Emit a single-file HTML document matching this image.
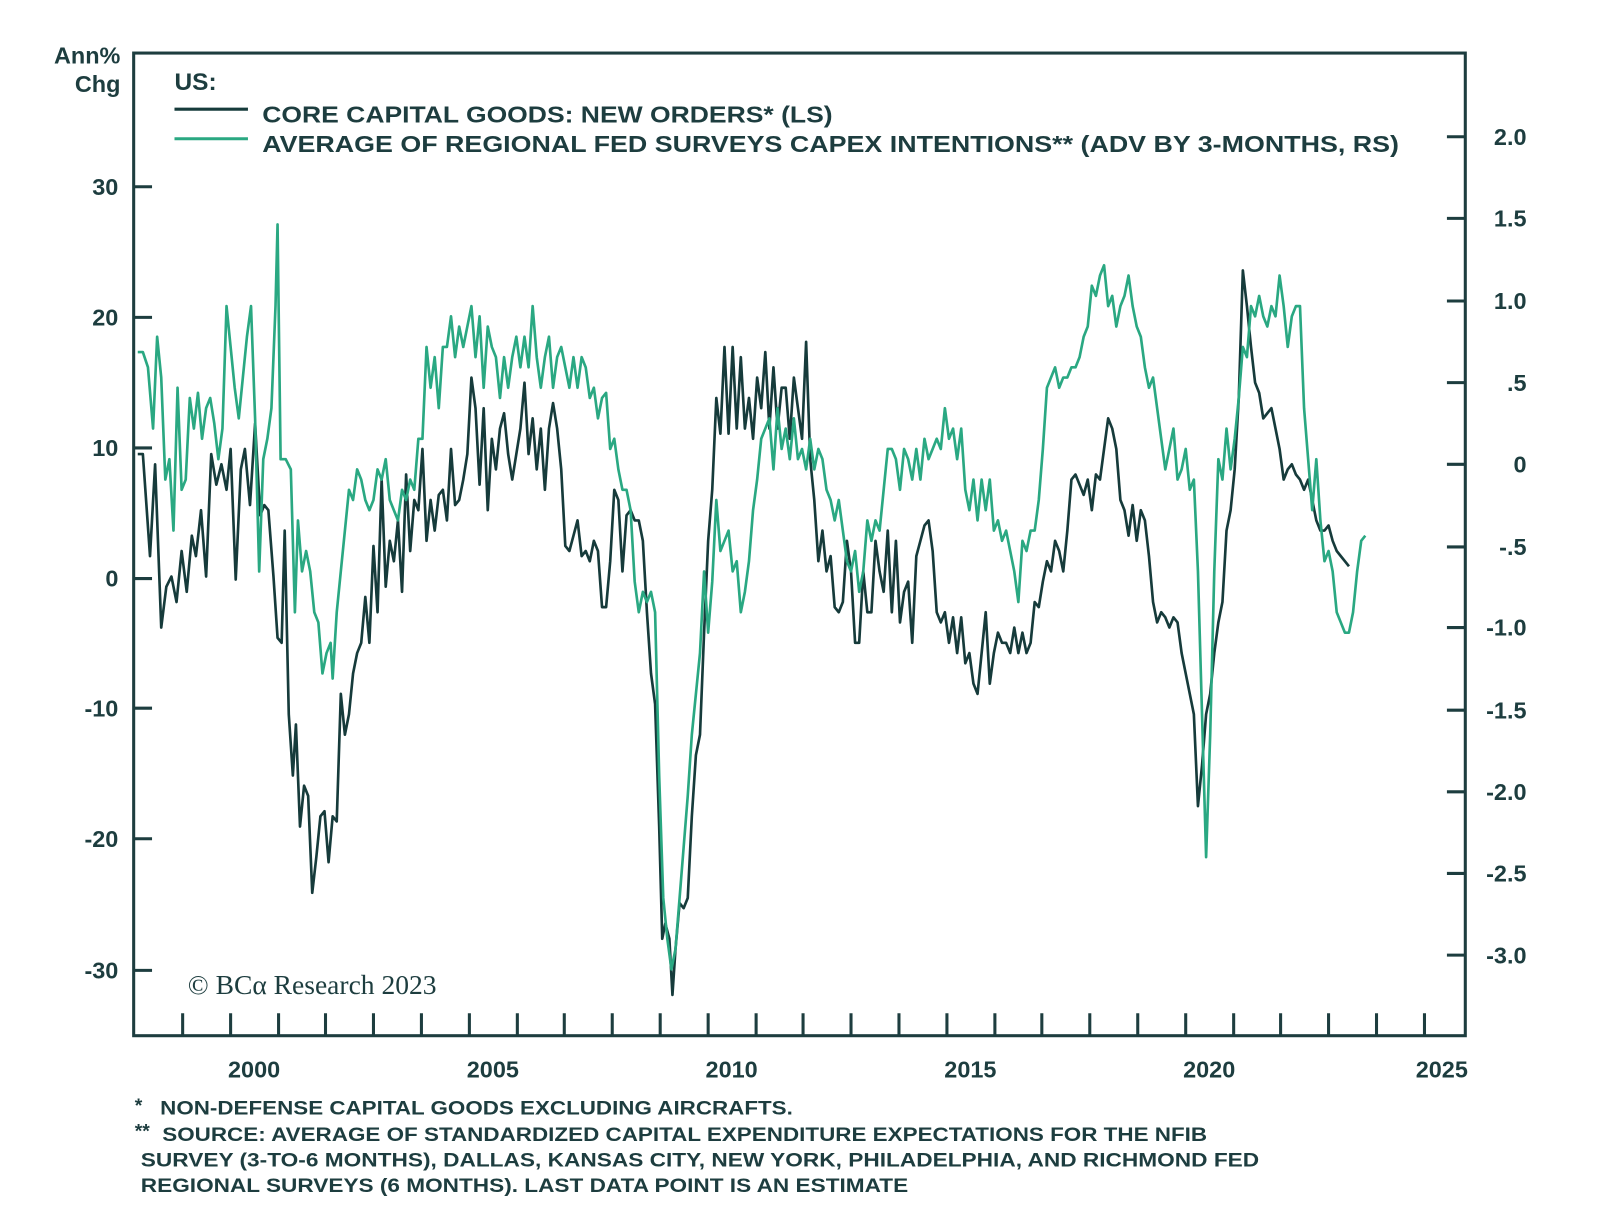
<!DOCTYPE html>
<html><head><meta charset="utf-8"><style>
html,body{margin:0;padding:0;background:#fff;}
svg{display:block;}
text{font-family:"Liberation Sans",sans-serif;font-weight:bold;fill:#1d3d3f;}
</style></head><body>
<svg width="1600" height="1232" viewBox="0 0 1600 1232" xmlns="http://www.w3.org/2000/svg">
<rect width="1600" height="1232" fill="#fff"/>
<g transform="scale(1.0204)">
<rect x="131" y="52" width="1305" height="963" fill="none" stroke="#1d3d3f" stroke-width="3"/>
<g stroke="#1d3d3f" stroke-width="3">
<line x1="131" y1="183" x2="149" y2="183"/><line x1="131" y1="311" x2="149" y2="311"/><line x1="131" y1="439" x2="149" y2="439"/><line x1="131" y1="567" x2="149" y2="567"/><line x1="131" y1="694" x2="149" y2="694"/><line x1="131" y1="822" x2="149" y2="822"/><line x1="131" y1="951" x2="149" y2="951"/>
<line x1="1418" y1="134" x2="1436" y2="134"/><line x1="1418" y1="214" x2="1436" y2="214"/><line x1="1418" y1="295" x2="1436" y2="295"/><line x1="1418" y1="375" x2="1436" y2="375"/><line x1="1418" y1="455" x2="1436" y2="455"/><line x1="1418" y1="536" x2="1436" y2="536"/><line x1="1418" y1="615" x2="1436" y2="615"/><line x1="1418" y1="696" x2="1436" y2="696"/><line x1="1418" y1="776" x2="1436" y2="776"/><line x1="1418" y1="856" x2="1436" y2="856"/><line x1="1418" y1="936" x2="1436" y2="936"/>
<path d="M179 1015V993M226 1015V993M273 1015V993M319 1015V993M366 1015V993M413 1015V993M460 1015V993M507 1015V993M553 1015V993M600 1015V993M647 1015V993M694 1015V993M741 1015V993M787 1015V993M834 1015V993M881 1015V993M928 1015V993M975 1015V993M1021 1015V993M1068 1015V993M1115 1015V993M1162 1015V993M1209 1015V993M1255 1015V993M1302 1015V993M1349 1015V993M1396 1015V993"/>
</g>
<g font-size="23" text-anchor="end">
<text x="118" y="62">Ann%</text><text x="118" y="90">Chg</text>
<text x="116" y="191">30</text><text x="116" y="319">20</text><text x="116" y="447">10</text><text x="116" y="575">0</text><text x="116" y="702">-10</text><text x="116" y="830">-20</text><text x="116" y="959">-30</text>
</g>
<g font-size="23" text-anchor="end">
<text x="1496" y="142">2.0</text><text x="1496" y="222">1.5</text><text x="1496" y="303">1.0</text><text x="1496" y="383">.5</text><text x="1496" y="463">0</text><text x="1496" y="544">-.5</text><text x="1496" y="623">-1.0</text><text x="1496" y="704">-1.5</text><text x="1496" y="784">-2.0</text><text x="1496" y="864">-2.5</text><text x="1496" y="944">-3.0</text>
</g>
<g font-size="23" text-anchor="middle">
<text x="249" y="1056">2000</text><text x="483" y="1056">2005</text><text x="717" y="1056">2010</text><text x="951" y="1056">2015</text><text x="1185" y="1056">2020</text><text x="1413" y="1056">2025</text>
</g>
<text x="171" y="88" font-size="24">US:</text>
<line x1="171" y1="107" x2="243" y2="107" stroke="#163b3b" stroke-width="3"/>
<line x1="171" y1="136" x2="243" y2="136" stroke="#2aa882" stroke-width="3"/>
<text x="257" y="120" font-size="23" textLength="559" lengthAdjust="spacingAndGlyphs">CORE CAPITAL GOODS: NEW ORDERS* (LS)</text>
<text x="257" y="149" font-size="23" textLength="1114" lengthAdjust="spacingAndGlyphs">AVERAGE OF REGIONAL FED SURVEYS CAPEX INTENTIONS** (ADV BY 3-MONTHS, RS)</text>
<text x="184" y="974" font-size="27" style="font-family:'Liberation Serif',serif;font-weight:normal">© BCα Research 2023</text>
<g font-size="19">
<text x="132" y="1090">*</text><text x="157" y="1092" textLength="620" lengthAdjust="spacingAndGlyphs">NON-DEFENSE CAPITAL GOODS EXCLUDING AIRCRAFTS.</text>
<text x="132" y="1115">**</text><text x="159" y="1118" textLength="1024" lengthAdjust="spacingAndGlyphs">SOURCE: AVERAGE OF STANDARDIZED CAPITAL EXPENDITURE EXPECTATIONS FOR THE NFIB</text>
<text x="138" y="1143" textLength="1096" lengthAdjust="spacingAndGlyphs">SURVEY (3-TO-6 MONTHS), DALLAS, KANSAS CITY, NEW YORK, PHILADELPHIA, AND RICHMOND FED</text>
<text x="138" y="1168" textLength="752" lengthAdjust="spacingAndGlyphs">REGIONAL SURVEYS (6 MONTHS). LAST DATA POINT IS AN ESTIMATE</text>
</g>
<polyline fill="none" stroke="#163b3b" stroke-width="2.6" stroke-linejoin="round" points="135,445 140,445 147,545 152,455 158,615 163,575 168,565 173,590 178,540 183,580 188,525 192,545 197,500 202,565 207,445 212,475 217,455 222,480 226,440 231,568 236,460 240,440 245,495 250,415 255,505 259,495 263,500 268,565 272,625 276,630 279,520 283,700 287,760 290,710 294,810 298,770 302,780 306,875 310,840 314,800 318,795 322,845 326,800 330,805 334,680 338,720 342,700 346,660 350,640 354,630 358,585 362,630 366,535 370,600 374,470 378,575 382,530 386,550 390,510 394,580 398,465 402,540 406,490 410,500 414,440 418,530 422,490 426,520 430,485 434,480 438,510 442,440 446,495 450,490 454,470 458,445 462,370 466,400 470,475 474,400 478,500 482,430 486,460 490,420 494,405 498,445 502,470 506,445 510,420 514,375 518,445 522,410 526,460 530,420 534,480 538,420 542,395 546,420 550,460 554,535 558,540 562,525 566,510 570,545 574,540 578,550 582,530 586,540 590,595 594,595 598,550 602,480 606,490 610,560 614,505 618,500 622,510 626,510 630,530 634,600 638,660 642,690 646,810 649,920 652,905 656,920 659,975 662,930 666,885 670,890 674,880 678,800 682,740 686,720 690,620 694,530 698,480 702,390 706,425 710,340 714,425 718,340 722,420 726,350 730,420 734,390 738,430 742,370 746,400 750,345 754,420 758,360 762,420 766,380 770,380 774,430 778,370 782,400 786,430 790,335 794,450 798,490 802,550 806,520 810,560 814,545 818,595 822,600 826,590 830,530 834,560 838,630 842,630 846,560 850,600 854,600 858,530 862,560 866,580 870,520 874,600 878,530 882,610 886,580 890,570 894,630 898,545 902,530 906,515 910,510 914,540 918,600 922,610 926,600 930,630 934,605 938,640 942,605 946,650 950,640 954,670 958,680 962,640 966,600 970,670 974,640 978,620 982,630 986,630 990,640 994,615 998,640 1002,620 1006,640 1010,630 1014,590 1018,595 1022,570 1026,550 1030,560 1034,530 1038,540 1042,560 1046,520 1050,470 1054,465 1058,475 1062,485 1066,470 1070,500 1074,465 1078,470 1082,440 1086,410 1090,420 1094,440 1098,490 1102,500 1106,525 1110,495 1114,530 1118,500 1122,510 1126,545 1130,590 1134,610 1138,600 1142,605 1146,615 1150,605 1154,610 1158,640 1162,660 1166,680 1170,700 1174,790 1178,750 1182,700 1186,680 1190,640 1194,610 1198,590 1202,520 1206,500 1210,460 1214,390 1218,265 1222,300 1226,340 1230,375 1234,385 1238,410 1242,405 1246,400 1250,420 1254,440 1258,470 1262,460 1266,455 1270,465 1274,470 1278,480 1282,470 1286,490 1290,510 1294,520 1298,520 1302,515 1306,530 1310,540 1314,545 1318,550 1322,555"/>
<polyline fill="none" stroke="#2aa882" stroke-width="2.6" stroke-linejoin="round" points="135,345 140,345 145,360 150,420 154,330 158,370 162,470 166,450 170,520 174,380 178,480 182,470 186,390 190,420 194,385 198,430 202,400 206,390 210,415 214,450 218,420 222,300 226,340 230,380 234,410 238,370 242,330 246,300 250,410 254,560 258,450 262,430 266,400 270,300 272,220 275,450 280,450 285,460 289,600 292,510 296,560 300,540 304,560 308,600 312,610 316,660 320,640 324,630 326,665 330,600 334,560 338,520 342,480 346,490 350,460 354,470 358,490 362,500 366,490 370,460 374,470 378,450 382,490 386,500 390,510 394,480 398,490 402,470 406,480 410,430 414,430 418,340 422,380 426,350 430,400 434,340 438,340 442,310 446,350 450,320 454,340 458,320 462,300 466,350 470,310 474,380 478,320 482,340 486,350 490,390 494,350 498,380 502,350 506,330 510,360 514,330 518,360 522,300 526,350 530,380 534,350 538,330 542,380 546,350 550,340 554,360 558,380 562,350 566,380 570,350 574,360 578,390 582,380 586,410 590,390 594,385 598,440 602,430 606,460 610,480 614,480 618,500 622,570 626,600 630,580 634,590 638,580 642,600 646,760 650,880 654,920 658,950 662,930 666,880 670,830 674,780 678,720 682,680 686,640 690,560 694,620 698,570 702,490 706,540 710,530 714,520 718,560 722,550 726,600 730,580 734,550 738,500 742,470 746,430 750,420 754,410 758,460 762,400 766,440 770,420 774,450 778,410 782,450 786,440 790,460 794,430 798,460 802,440 806,450 810,480 814,490 818,510 822,490 826,520 830,550 834,560 838,540 842,580 846,560 850,510 854,530 858,510 862,520 866,480 870,440 874,440 878,450 882,480 886,440 890,450 894,470 898,440 902,470 906,430 910,450 914,440 918,430 922,440 926,400 930,430 934,420 938,450 942,420 946,480 950,500 954,470 958,510 962,470 966,500 970,470 974,520 978,510 982,530 986,520 990,540 994,560 998,590 1002,530 1006,540 1010,520 1014,520 1018,490 1022,440 1026,380 1030,370 1034,360 1038,380 1042,370 1046,370 1050,360 1054,360 1058,350 1062,330 1066,320 1070,280 1074,290 1078,270 1082,260 1086,300 1090,290 1094,320 1098,300 1102,290 1106,270 1110,300 1114,320 1118,330 1122,360 1126,380 1130,370 1134,400 1138,430 1142,460 1146,440 1150,420 1154,470 1158,460 1162,440 1166,480 1170,470 1174,560 1178,700 1182,840 1186,720 1190,560 1194,450 1198,470 1202,420 1206,460 1210,430 1214,390 1218,340 1222,350 1226,300 1230,310 1234,290 1238,310 1242,320 1246,300 1250,310 1254,270 1258,300 1262,340 1266,310 1270,300 1274,300 1278,400 1282,450 1286,500 1290,450 1294,510 1298,550 1302,540 1306,560 1310,600 1314,610 1318,620 1322,620 1326,600 1330,560 1334,530 1338,525"/>
</g>
</svg>
</body></html>
